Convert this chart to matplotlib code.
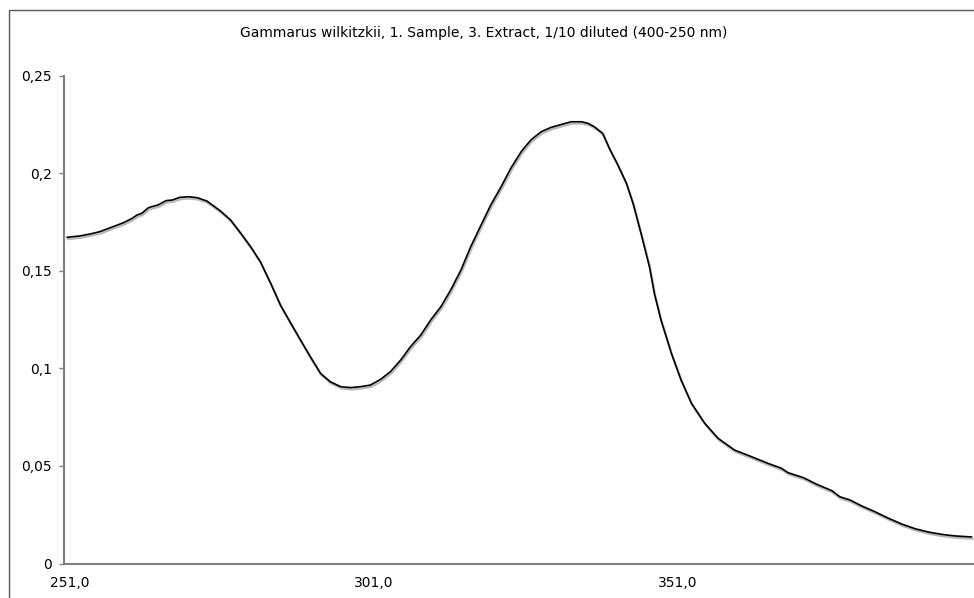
import matplotlib
matplotlib.use("Agg")
import matplotlib.pyplot as plt
import matplotlib.patheffects as pe
from matplotlib.patches import Rectangle
from matplotlib.ticker import FuncFormatter

# Absorbance spectrum of the extract
wavelength_nm = [
    250.5, 252.6, 254.3, 255.9, 257.6, 259.8, 261.2, 262.0, 262.8, 263.9,
    265.5, 266.8, 267.8, 269.1, 270.5, 271.9, 273.5, 275.7, 277.4, 279.0,
    280.7, 282.3, 284.0, 285.6, 287.3, 288.9, 290.6, 292.2, 293.8, 295.5,
    297.1, 298.8, 300.4, 302.1, 303.7, 305.4, 307.0, 308.7, 310.3, 312.0,
    313.6, 315.3, 316.9, 318.6, 320.2, 321.9, 323.5, 325.2, 326.8, 328.5,
    330.1, 331.8, 333.4, 335.1, 336.2, 337.2, 338.6, 339.7, 341.1, 342.5,
    343.6, 344.9, 346.3, 347.1, 348.2, 349.9, 351.5, 353.2, 355.4, 357.6,
    360.3, 363.1, 365.8, 368.0, 369.1, 371.6, 373.8, 376.3, 377.6, 379.3,
    381.2, 383.4, 385.6, 387.8, 390.0, 392.2, 394.4, 396.6, 399.3,
]
absorbance = [
    0.1671, 0.1678, 0.1688, 0.1700, 0.1720, 0.1746, 0.1768, 0.1785, 0.1794, 0.1823,
    0.1837, 0.1859, 0.1862, 0.1876, 0.1879, 0.1874, 0.1857, 0.1807, 0.1760, 0.1695,
    0.1623, 0.1546, 0.1435, 0.1324, 0.1231, 0.1145, 0.1055, 0.0974, 0.0931, 0.0906,
    0.0901, 0.0906, 0.0914, 0.0944, 0.0983, 0.1043, 0.1111, 0.1171, 0.1247, 0.1316,
    0.1401, 0.1504, 0.1623, 0.1734, 0.1837, 0.1930, 0.2025, 0.2110, 0.2170, 0.2212,
    0.2234, 0.2249, 0.2263, 0.2263, 0.2255, 0.2238, 0.2204, 0.2127, 0.2042, 0.1948,
    0.1845, 0.1692, 0.1520, 0.1384, 0.1247, 0.1077, 0.0940, 0.0821, 0.0718, 0.0641,
    0.0581, 0.0547, 0.0513, 0.0488, 0.0465, 0.0440, 0.0406, 0.0373, 0.0342, 0.0325,
    0.0295, 0.0265, 0.0232, 0.0202, 0.0178, 0.0161, 0.0149, 0.0141, 0.0136,
]

x_ticks = [251, 301, 351]
y_ticks = [0, 0.05, 0.1, 0.15, 0.2, 0.25]
title = "Gammarus wilkitzkii, 1. Sample, 3. Extract, 1/10 diluted (400-250 nm)"

W, H = 974, 598
fig = plt.figure(figsize=(W / 100, H / 100), dpi=100)
fig.patch.set_facecolor("white")

# chart-area frame (runs off the right and bottom edges)
fig.patches.append(Rectangle((8.5 / W, -0.2), 1.2, 1.2 - 9.5 / H,
                             transform=fig.transFigure, fill=False,
                             edgecolor="#5a5a5a", linewidth=1.0))

ax = fig.add_axes([64 / W, 34.5 / H, 1 - 64 / W + 0.002, (563.5 - 75.5) / H])
ax.set_xlim(250, 400)
ax.set_ylim(0, 0.25)

ax.plot(wavelength_nm, absorbance, color="black", linewidth=1.2,
        solid_joinstyle="round", solid_capstyle="round",
        path_effects=[pe.SimpleLineShadow(offset=(0.6, -1.3), shadow_color="#b8b8b8",
                                          alpha=1.0, linewidth=1.6),
                      pe.Normal()])

for side in ("top", "right"):
    ax.spines[side].set_visible(False)
for side in ("left", "bottom"):
    ax.spines[side].set_color("#808080")
    ax.spines[side].set_linewidth(1.5)

ax.set_xticks(x_ticks)
ax.set_xticklabels([f"{v:.1f}".replace(".", ",") for v in x_ticks])
ax.set_yticks(y_ticks)
ax.yaxis.set_major_formatter(FuncFormatter(lambda v, p: f"{v:g}".replace(".", ",")))

ax.tick_params(axis="x", length=0, pad=9, labelsize=10, colors="black")
ax.tick_params(axis="y", length=3.5, width=1.0, color="#808080", pad=5,
               labelsize=10, labelcolor="black")

fig.text(484 / W, 1 - 33 / H, title, ha="center", va="center", fontsize=10,
         color="black")

fig.savefig("out.png", dpi=100, facecolor="white")
